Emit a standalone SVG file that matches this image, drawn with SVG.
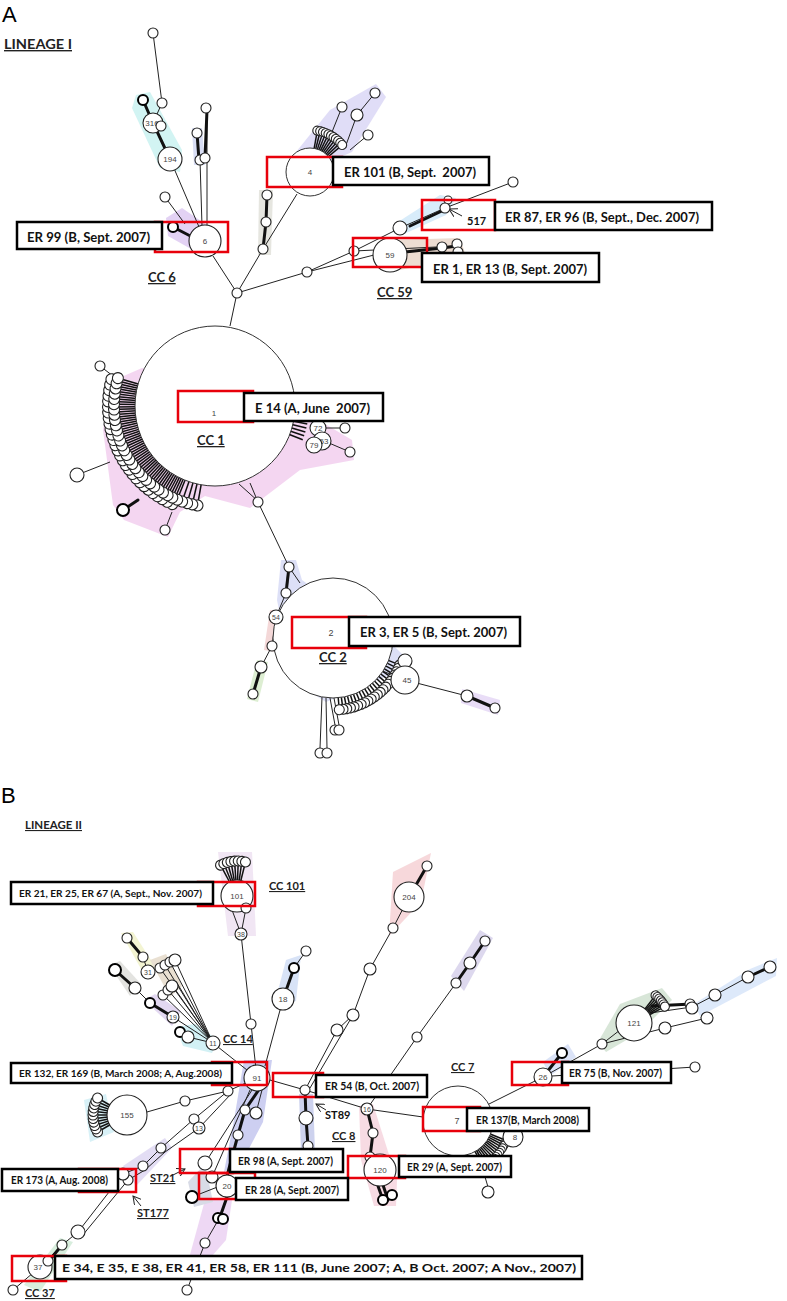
<svg xmlns="http://www.w3.org/2000/svg" width="787" height="1301" viewBox="0 0 787 1301">
<style>
.e{stroke:#222;stroke-width:1;fill:none}
.t{stroke:#111;stroke-width:3;fill:none;stroke-linecap:round}
.n{fill:#fff;stroke:#222;stroke-width:1.1}
.nd{fill:#fff;stroke:#000;stroke-width:2}
.big{fill:#fff;stroke:#333;stroke-width:1}
.sp{stroke:#111;stroke-width:1.5}
.lab{font-family:Arial,'Liberation Sans',sans-serif;font-size:8px;fill:#444;text-anchor:middle}
.rb{fill:none;stroke:#e8000b;stroke-width:2.5}
.bb{fill:#fff;stroke:#000;stroke-width:2.5}
.bt{font-family:Lato,'Open Sans',sans-serif;font-weight:bold;font-size:14px;fill:#111;white-space:pre}
.bs{font-family:Lato,'Open Sans',sans-serif;font-weight:bold;font-size:12px;fill:#111;white-space:pre}
.cc{font-family:Lato,'Open Sans',sans-serif;font-weight:bold;fill:#222;text-decoration:underline}
.c13{font-size:13px}
.c11{font-size:11px}
.ttl{font-family:'Liberation Sans',Arial,sans-serif;font-size:22px;fill:#000}
</style>
<defs>
<marker id="ar" markerWidth="9" markerHeight="9" refX="8" refY="4.5" orient="auto" markerUnits="userSpaceOnUse"><path d="M0,0 L8,4.5 L0,9" fill="none" stroke="#222" stroke-width="1"/></marker>
<g id="f1"><line class="sp" x1="79" y1="0" x2="96" y2="0"/><circle class="n" cx="101" cy="0" r="5.5"/></g>
<g id="f1b"><line class="sp" x1="79" y1="0" x2="102" y2="0"/><circle class="n" cx="107" cy="0" r="5.5"/></g>
<g id="f1r"><line class="sp" x1="79" y1="0" x2="94" y2="0"/></g>
<g id="f2"><line class="sp" x1="59" y1="0" x2="67" y2="0"/><circle class="n" cx="72" cy="0" r="5"/></g>
<g id="f4"><line class="sp" x1="23" y1="0" x2="38" y2="0"/><circle class="n" cx="42" cy="0" r="4.5"/></g>
<g id="f7"><line class="sp" x1="34" y1="0" x2="48" y2="0"/><circle class="n" cx="52" cy="0" r="4"/></g>
<g id="f101"><line class="sp" x1="15" y1="0" x2="31" y2="0"/><circle class="n" cx="35" cy="0" r="5"/></g>
<g id="f121"><line class="sp" x1="17" y1="0" x2="31" y2="0"/><circle class="n" cx="35" cy="0" r="4.5"/></g>
<g id="f155"><line class="sp" x1="19" y1="0" x2="30" y2="0"/><circle class="n" cx="34" cy="0" r="5"/></g>
</defs>
<rect width="787" height="1301" fill="#fff"/>

<g id="shading" opacity="0.7">
<polygon fill="#bff0ee" points="136,95 150,92 182,150 180,172 160,168 132,108"/>
<polygon fill="#c8d0f0" points="192,128 202,128 205,165 194,165"/>
<polygon fill="#d8c0f0" points="166,218 182,208 217,232 207,258 168,236"/>
<polygon fill="#dcdcd4" points="259,190 273,190 271,255 258,255"/>
<polygon fill="#d4d0f4" points="296,152 330,110 376,84 386,97 352,152 320,166"/>
<polygon fill="#c8e4f8" points="398,222 440,195 456,198 446,215 404,234"/>
<polygon fill="#e6d0c0" points="395,240 460,238 466,256 400,270"/>
<polygon fill="#f0c6ec" points="142,368 110,382 103,430 113,505 124,520 168,537 180,512 205,496 250,508 300,470 354,460 352,440 305,412"/>
<polygon fill="#d0d4f4" points="281,560 296,560 302,580 396,648 410,662 397,672 326,702 310,692 285,640 277,600"/>
<polygon fill="#f0c8c8" points="270,610 283,610 276,652 264,650"/>
<polygon fill="#cfe8c0" points="257,660 268,662 258,702 247,699"/>
<polygon fill="#e0d0f4" points="462,689 500,700 498,715 461,703"/>
<polygon fill="#ecdcf0" points="218,852 252,852 256,936 228,936"/>
<polygon fill="#eef0c0" points="121,933 133,932 156,968 145,976"/>
<polygon fill="#d8d8d4" points="109,965 120,961 141,984 130,996"/>
<polygon fill="#e0d4c0" points="150,960 166,954 182,986 170,997"/>
<polygon fill="#d8c8ec" points="144,1000 155,994 181,1011 172,1026"/>
<polygon fill="#c0ecf2" points="176,1027 195,1024 218,1040 212,1053 183,1046"/>
<polygon fill="#c8d8f4" points="286,960 301,955 296,1001 274,1006"/>
<polygon fill="#f4c8cc" points="393,872 431,853 421,902 389,936"/>
<polygon fill="#cfc8e8" points="451,976 480,930 493,938 464,991"/>
<polygon fill="#c8dcc8" points="598,1042 620,1004 662,988 672,1000 640,1032 606,1052"/>
<polygon fill="#d0e0f8" points="694,1004 750,969 777,958 776,976 700,1016"/>
<polygon fill="#ccd8f4" points="543,1062 568,1044 576,1057 550,1076"/>
<polygon fill="#c8ecf4" points="84,1100 106,1094 114,1132 90,1142"/>
<polygon fill="#b8bcec" points="244,1060 272,1060 263,1122 243,1160 224,1172 234,1120"/>
<polygon fill="#b8c0e8" points="299,1094 313,1094 315,1152 301,1152"/>
<polygon fill="#f4ccd8" points="359,1106 373,1104 397,1180 396,1206 374,1206 361,1160"/>
<polygon fill="#d8d0f0" points="123,1166 165,1138 172,1148 136,1186"/>
<polygon fill="#c8e8d0" points="24,1285 60,1238 73,1242 40,1292"/>
<polygon fill="#e8c8f0" points="205,1200 232,1200 226,1240 198,1272 188,1262"/>
<polygon fill="#c8ccdc" points="188,1182 205,1164 213,1202 194,1207"/>
</g>

<g id="connectors">
<path class="e" d="M153,33 L162,103 L153,123"/>
<path class="t" d="M143,100 L153,123 L170,159"/>
<path class="e" d="M170,159 L205,241"/>
<path class="t" d="M197,133 L199,160"/>
<path class="e" d="M202,226 L200,160 M207,226 L207,108"/>
<path class="t" d="M205,158 L207,110"/>
<path class="e" d="M165,197 L185,224"/>
<path class="t" d="M173,227 L198,240"/>
<path class="e" d="M213,256 L237,293 L230,326"/>
<path class="e" d="M237,293 L263,249 L297,194"/>
<path class="t" d="M263,249 L266,222 L267,195"/>
<path class="e" d="M237,293 L307,272 L354,251 L400,228 L445,208 L513,182 M307,272 L374,255 M354,251 L457,246"/>
<path class="t" d="M405,252 L442,248 L457,246"/>
<path class="t" d="M410,226 L444,210"/>
<path class="e" d="M330,137 L342,107 M346,145 L357,115 L375,93 M350,150 L368,135"/>
<path class="e" d="M100,366 L113,376 M77,475 L110,462 M165,530 L172,512"/>
<path class="t" d="M123,510 L138,500"/>
<path class="e" d="M318,428 L345,428 M322,440 L350,452"/>
<path class="e" d="M250,483 L258,502 L289,567 L300,583"/>
<path class="t" d="M289,567 L286,593"/>
<path class="e" d="M286,593 L276,617 L272,646 L261,667"/>
<path class="t" d="M261,667 L253,694"/>
<path class="e" d="M380,670 L405,680 L467,696"/>
<path class="t" d="M467,696 L495,708"/>
<path class="e" d="M322,697 L320,748 M326,698 L327,748 M330,698 L335,725 M334,698 L339,725"/>

<path class="e" d="M232,910 L241,934 M246,908 L241,934 L257,1078"/>
<path class="e" d="M265,1066 L283,999"/>
<path class="t" d="M283,999 L294,968"/>
<path class="e" d="M294,968 L306,951"/>
<path class="e" d="M257,1078 L213,1043 M213,1043 L160,968 M213,1043 L165,965 M213,1043 L170,962 M213,1043 L175,960 M213,1043 L163,995 M213,1043 L168,990 M213,1043 L172,986 M213,1043 L177,983"/>
<path class="e" d="M213,1043 L173,1017 M150,1003 L135,988 M143,957 L148,972 M188,1037 L213,1043"/>
<path class="t" d="M173,1017 L150,1003 M135,988 L115,970 M127,938 L143,957 M180,1032 L192,1037"/>
<path class="e" d="M257,1078 L228,1091 L185,1101 L147,1112"/>
<path class="e" d="M228,1091 L194,1119 L161,1148 L143,1166 L123,1174 M231,1094 L199,1128 L165,1152 L145,1170 L128,1180"/>
<path class="e" d="M123,1174 L78,1232 M128,1180 L82,1236 M78,1232 L62,1245 L40,1267 L13,1290"/>
<path class="t" d="M62,1245 L48,1262"/>
<path class="e" d="M252,1090 L205,1163 M250,1090 L212,1177 M262,1090 L256,1113"/>
<path class="t" d="M258,1091 L245,1110 L238,1135 L227,1176 M227,1197 L220,1217"/>
<path class="e" d="M220,1217 L205,1243 L187,1290 M220,1186 L192,1197"/>
<path class="e" d="M270,1080 L305,1090 L367,1109 L423,1117"/>
<path class="t" d="M305,1090 L306,1118 L308,1146"/>
<path class="e" d="M305,1090 L337,1030 L353,1015 L370,969 L393,928 L409,897 M310,1088 L353,1015"/>
<path class="t" d="M409,897 L427,866"/>
<path class="e" d="M367,1109 L417,1037 L456,983"/>
<path class="t" d="M456,983 L470,963 L485,941"/>
<path class="t" d="M367,1109 L373,1133 L370,1157 M383,1185 L388,1200 M378,1186 L383,1200"/>
<path class="e" d="M487,1105 L543,1077 L602,1044 L620,1030"/>
<path class="t" d="M543,1077 L562,1053"/>
<path class="e" d="M552,1076 L695,1067"/>
<path class="e" d="M602,1044 L665,1028 L707,1018 M650,1013 L692,1007 L715,995 L748,977"/>
<path class="t" d="M652,1006 L692,1004 M748,977 L770,967"/>
<path class="e" d="M477,1150 L488,1187"/>
<path class="e" d="M462,216 L449,209" marker-end="url(#ar)"/>
<path class="e" d="M326,1110 L316,1104" marker-end="url(#ar)"/>
<path class="e" d="M173,1175 L185,1169" marker-end="url(#ar)"/>
<path class="e" d="M141,1206 L133,1196" marker-end="url(#ar)"/>
</g>

<g id="cc1">
<g transform="translate(215 406)">
<use href="#f1b" transform="rotate(113.5)"/><use href="#f1b" transform="rotate(116.5)"/><use href="#f1b" transform="rotate(119.5)"/><use href="#f1b" transform="rotate(122.5)"/><use href="#f1b" transform="rotate(125.5)"/><use href="#f1b" transform="rotate(128.5)"/><use href="#f1b" transform="rotate(131.5)"/><use href="#f1b" transform="rotate(134.5)"/><use href="#f1b" transform="rotate(137.5)"/><use href="#f1b" transform="rotate(140.5)"/><use href="#f1b" transform="rotate(143.5)"/><use href="#f1b" transform="rotate(146.5)"/><use href="#f1b" transform="rotate(149.5)"/><use href="#f1b" transform="rotate(152.5)"/><use href="#f1b" transform="rotate(155.5)"/><use href="#f1b" transform="rotate(158.5)"/><use href="#f1b" transform="rotate(161.5)"/><use href="#f1b" transform="rotate(164.5)"/><use href="#f1b" transform="rotate(167.5)"/><use href="#f1b" transform="rotate(170.5)"/><use href="#f1b" transform="rotate(173.5)"/><use href="#f1b" transform="rotate(176.5)"/><use href="#f1b" transform="rotate(179.5)"/><use href="#f1b" transform="rotate(182.5)"/><use href="#f1b" transform="rotate(185.5)"/><use href="#f1b" transform="rotate(188.5)"/><use href="#f1b" transform="rotate(191.5)"/><use href="#f1b" transform="rotate(194.5)"/>
<use href="#f1" transform="rotate(100)"/><use href="#f1" transform="rotate(103)"/><use href="#f1" transform="rotate(106)"/><use href="#f1" transform="rotate(109)"/><use href="#f1" transform="rotate(112)"/><use href="#f1" transform="rotate(115)"/><use href="#f1" transform="rotate(118)"/><use href="#f1" transform="rotate(121)"/><use href="#f1" transform="rotate(124)"/><use href="#f1" transform="rotate(127)"/><use href="#f1" transform="rotate(130)"/><use href="#f1" transform="rotate(133)"/><use href="#f1" transform="rotate(136)"/><use href="#f1" transform="rotate(139)"/><use href="#f1" transform="rotate(142)"/><use href="#f1" transform="rotate(145)"/><use href="#f1" transform="rotate(148)"/><use href="#f1" transform="rotate(151)"/><use href="#f1" transform="rotate(154)"/><use href="#f1" transform="rotate(157)"/><use href="#f1" transform="rotate(160)"/><use href="#f1" transform="rotate(163)"/><use href="#f1" transform="rotate(166)"/><use href="#f1" transform="rotate(169)"/><use href="#f1" transform="rotate(172)"/><use href="#f1" transform="rotate(175)"/><use href="#f1" transform="rotate(178)"/><use href="#f1" transform="rotate(181)"/><use href="#f1" transform="rotate(184)"/><use href="#f1" transform="rotate(187)"/><use href="#f1" transform="rotate(190)"/><use href="#f1" transform="rotate(193)"/><use href="#f1" transform="rotate(196)"/>
<use href="#f1r" transform="rotate(6)"/><use href="#f1r" transform="rotate(8.5)"/><use href="#f1r" transform="rotate(11)"/><use href="#f1r" transform="rotate(13.5)"/><use href="#f1r" transform="rotate(16)"/><use href="#f1r" transform="rotate(18.5)"/><use href="#f1r" transform="rotate(21)"/>
<line class="e" x1="24" y1="78" x2="44" y2="96"/>
</g>
<circle class="big" cx="215" cy="406" r="80"/>
<text class="lab" x="214" y="416">1</text>
</g>

<g id="cc2">
<g transform="translate(333 638)">
<use href="#f2" transform="rotate(22)"/><use href="#f2" transform="rotate(25)"/><use href="#f2" transform="rotate(28)"/><use href="#f2" transform="rotate(31)"/><use href="#f2" transform="rotate(34)"/><use href="#f2" transform="rotate(37)"/><use href="#f2" transform="rotate(40)"/><use href="#f2" transform="rotate(43)"/><use href="#f2" transform="rotate(46)"/><use href="#f2" transform="rotate(49)"/><use href="#f2" transform="rotate(52)"/><use href="#f2" transform="rotate(55)"/><use href="#f2" transform="rotate(58)"/><use href="#f2" transform="rotate(61)"/><use href="#f2" transform="rotate(64)"/><use href="#f2" transform="rotate(67)"/><use href="#f2" transform="rotate(70)"/><use href="#f2" transform="rotate(73)"/><use href="#f2" transform="rotate(76)"/><use href="#f2" transform="rotate(79)"/><use href="#f2" transform="rotate(82)"/><use href="#f2" transform="rotate(85)"/>
</g>
<circle class="big" cx="333" cy="638" r="60"/>
<text class="lab" x="331" y="636" style="font-size:9px">2</text>
</g>

<g id="node4">
<g transform="translate(310 172)">
<use href="#f4" transform="rotate(-80)"/><use href="#f4" transform="rotate(-76)"/><use href="#f4" transform="rotate(-72)"/><use href="#f4" transform="rotate(-68)"/><use href="#f4" transform="rotate(-64)"/><use href="#f4" transform="rotate(-60)"/><use href="#f4" transform="rotate(-56)"/><use href="#f4" transform="rotate(-52)"/><use href="#f4" transform="rotate(-48)"/><use href="#f4" transform="rotate(-44)"/><use href="#f4" transform="rotate(-40)"/>
</g>
<circle class="big" cx="310" cy="172" r="24"/>
<text class="lab" x="310" y="175">4</text>
</g>

<g id="node7">
<g transform="translate(458 1121)">
<use href="#f7" transform="rotate(22)"/><use href="#f7" transform="rotate(25)"/><use href="#f7" transform="rotate(28)"/><use href="#f7" transform="rotate(31)"/><use href="#f7" transform="rotate(34)"/><use href="#f7" transform="rotate(37)"/><use href="#f7" transform="rotate(40)"/><use href="#f7" transform="rotate(43)"/><use href="#f7" transform="rotate(46)"/><use href="#f7" transform="rotate(49)"/><use href="#f7" transform="rotate(52)"/><use href="#f7" transform="rotate(55)"/><use href="#f7" transform="rotate(58)"/><use href="#f7" transform="rotate(61)"/>
</g>
<circle class="big" cx="458" cy="1121" r="35"/>
<text class="lab" x="457" y="1124" style="font-size:9px">7</text>
<circle class="n" cx="513" cy="1137" r="10"/><text class="lab" x="515" y="1140">8</text>
</g>

<g id="node101">
<g transform="translate(237 896)">
<use href="#f101" transform="rotate(-118)"/><use href="#f101" transform="rotate(-112)"/><use href="#f101" transform="rotate(-106)"/><use href="#f101" transform="rotate(-100)"/><use href="#f101" transform="rotate(-94)"/><use href="#f101" transform="rotate(-88)"/><use href="#f101" transform="rotate(-82)"/><use href="#f101" transform="rotate(-76)"/>
</g>
<circle class="n" cx="237" cy="896" r="16"/><text class="lab" x="237" y="899">101</text>
</g>

<g id="node121">
<g transform="translate(634 1023)">
<use href="#f121" transform="rotate(-52)"/><use href="#f121" transform="rotate(-48)"/><use href="#f121" transform="rotate(-44)"/><use href="#f121" transform="rotate(-40)"/><use href="#f121" transform="rotate(-36)"/><use href="#f121" transform="rotate(-32)"/><use href="#f121" transform="rotate(-28)"/>
</g>
<circle class="n" cx="634" cy="1023" r="18"/><text class="lab" x="634" y="1026">121</text>
</g>

<g id="node155">
<g transform="translate(127 1115)">
<use href="#f155" transform="rotate(150)"/><use href="#f155" transform="rotate(156)"/><use href="#f155" transform="rotate(162)"/><use href="#f155" transform="rotate(168)"/><use href="#f155" transform="rotate(174)"/><use href="#f155" transform="rotate(180)"/><use href="#f155" transform="rotate(186)"/><use href="#f155" transform="rotate(192)"/><use href="#f155" transform="rotate(198)"/><use href="#f155" transform="rotate(204)"/><use href="#f155" transform="rotate(210)"/>
</g>
<circle class="n" cx="127" cy="1115" r="20"/><text class="lab" x="127" y="1118">155</text>
</g>

<g id="nodesA">
<circle class="n" cx="153" cy="33" r="5"/>
<circle class="n" cx="162" cy="103" r="5"/>
<circle class="nd" cx="143" cy="100" r="5"/>
<circle class="n" cx="153" cy="123" r="10"/><text class="lab" x="152" y="126">316</text>
<circle class="n" cx="161" cy="126" r="5"/>
<circle class="n" cx="170" cy="159" r="12"/><text class="lab" x="170" y="162">194</text>
<circle class="n" cx="197" cy="133" r="5"/>
<circle class="n" cx="200" cy="160" r="5"/>
<circle class="n" cx="206" cy="108" r="5"/>
<circle class="n" cx="205" cy="158" r="5"/>
<circle class="n" cx="165" cy="197" r="5"/>
<circle class="nd" cx="173" cy="227" r="5"/>
<circle class="n" cx="205" cy="241" r="16"/><text class="lab" x="205" y="244">6</text>
<circle class="n" cx="237" cy="293" r="5"/>
<circle class="n" cx="263" cy="249" r="5"/>
<circle class="n" cx="266" cy="222" r="5"/>
<circle class="n" cx="267" cy="195" r="5"/>
<circle class="n" cx="342" cy="107" r="5"/>
<circle class="n" cx="357" cy="115" r="6"/>
<circle class="n" cx="375" cy="93" r="5"/>
<circle class="n" cx="368" cy="135" r="5"/>
<circle class="n" cx="307" cy="272" r="5"/>
<circle class="n" cx="354" cy="251" r="5"/>
<circle class="n" cx="400" cy="228" r="7"/>
<circle class="n" cx="448" cy="200" r="4"/>
<circle class="n" cx="445" cy="208" r="5"/>
<circle class="n" cx="513" cy="182" r="5"/>
<circle class="n" cx="442" cy="247" r="5"/>
<circle class="n" cx="457" cy="244" r="5"/>
<circle class="n" cx="458" cy="252" r="5"/>
<circle class="n" cx="390" cy="255" r="17"/><text class="lab" x="390" y="258">59</text>
<circle class="n" cx="100" cy="366" r="5"/>
<circle class="n" cx="77" cy="475" r="7"/>
<circle class="nd" cx="123" cy="510" r="6"/>
<circle class="n" cx="165" cy="530" r="5"/>
<circle class="n" cx="318" cy="428" r="8"/><text class="lab" x="318" y="431">72</text>
<circle class="n" cx="322" cy="441" r="9"/><text class="lab" x="324" y="444">53</text>
<circle class="n" cx="314" cy="445" r="8"/><text class="lab" x="314" y="448">79</text>
<circle class="n" cx="345" cy="428" r="5"/>
<circle class="n" cx="350" cy="452" r="5"/>
<circle class="n" cx="258" cy="502" r="5"/>
<circle class="n" cx="289" cy="567" r="5"/>
<circle class="n" cx="286" cy="593" r="5"/>
<circle class="n" cx="276" cy="617" r="7"/><text class="lab" x="276" y="620" style="font-size:7px">54</text>
<circle class="n" cx="272" cy="646" r="5"/>
<circle class="n" cx="261" cy="667" r="6"/>
<circle class="n" cx="253" cy="694" r="5"/>
<circle class="n" cx="405" cy="661" r="7"/>
<circle class="n" cx="405" cy="680" r="14"/><text class="lab" x="407" y="683">45</text>
<circle class="n" cx="467" cy="696" r="6"/>
<circle class="n" cx="495" cy="708" r="5"/>
<circle class="n" cx="335" cy="730" r="5"/>
<circle class="n" cx="339" cy="730" r="5"/>
<circle class="n" cx="320" cy="753" r="5"/>
<circle class="n" cx="327" cy="753" r="5"/>
</g>

<g id="nodesB">
<circle class="n" cx="246" cy="908" r="5"/>
<circle class="n" cx="241" cy="934" r="6"/><text class="lab" x="241" y="937" style="font-size:7px">38</text>
<circle class="n" cx="251" cy="1024" r="5"/>
<circle class="n" cx="257" cy="1078" r="13"/><text class="lab" x="257" y="1081">91</text>
<circle class="n" cx="283" cy="999" r="11"/><text class="lab" x="283" y="1002">18</text>
<circle class="nd" cx="294" cy="968" r="5"/>
<circle class="n" cx="306" cy="951" r="5"/>
<circle class="n" cx="160" cy="968" r="5"/><circle class="n" cx="165" cy="965" r="5"/><circle class="n" cx="170" cy="962" r="5"/><circle class="n" cx="175" cy="960" r="6"/>
<circle class="n" cx="163" cy="995" r="5"/><circle class="n" cx="168" cy="990" r="5"/><circle class="n" cx="172" cy="986" r="6"/>
<circle class="n" cx="127" cy="938" r="5"/>
<circle class="n" cx="143" cy="957" r="5"/>
<circle class="n" cx="148" cy="972" r="7"/><text class="lab" x="148" y="975" style="font-size:7px">31</text>
<circle class="nd" cx="115" cy="970" r="6"/>
<circle class="n" cx="135" cy="988" r="6"/>
<circle class="nd" cx="150" cy="1003" r="5"/>
<circle class="n" cx="173" cy="1017" r="6"/><text class="lab" x="173" y="1020" style="font-size:7px">19</text>
<circle class="nd" cx="180" cy="1032" r="5"/>
<circle class="n" cx="188" cy="1037" r="6"/>
<circle class="n" cx="213" cy="1043" r="7"/><text class="lab" x="213" y="1046" style="font-size:7px">11</text>
<circle class="n" cx="185" cy="1101" r="5"/>
<circle class="n" cx="228" cy="1091" r="5"/>
<circle class="n" cx="194" cy="1119" r="5"/>
<circle class="n" cx="199" cy="1128" r="6"/><text class="lab" x="199" y="1131" style="font-size:7px">13</text>
<circle class="n" cx="161" cy="1148" r="5"/>
<circle class="n" cx="143" cy="1166" r="5"/>
<circle class="n" cx="128" cy="1180" r="5"/>
<circle class="n" cx="123" cy="1174" r="6"/>
<circle class="n" cx="78" cy="1232" r="7"/>
<circle class="n" cx="62" cy="1245" r="5"/>
<circle class="n" cx="40" cy="1267" r="12"/><text class="lab" x="38" y="1270">37</text>
<circle class="n" cx="48" cy="1261" r="5"/>
<circle class="n" cx="13" cy="1290" r="5"/>
<circle class="n" cx="245" cy="1110" r="5"/>
<circle class="n" cx="256" cy="1113" r="6"/>
<circle class="n" cx="238" cy="1135" r="5"/>
<circle class="n" cx="205" cy="1163" r="7"/>
<circle class="n" cx="212" cy="1177" r="6"/>
<circle class="nd" cx="192" cy="1197" r="6"/>
<circle class="n" cx="227" cy="1186" r="11"/><text class="lab" x="227" y="1189">20</text>
<circle class="nd" cx="218" cy="1218" r="5"/><circle class="nd" cx="223" cy="1219" r="5"/>
<circle class="n" cx="205" cy="1243" r="5"/>
<circle class="n" cx="187" cy="1290" r="5"/>
<circle class="n" cx="305" cy="1090" r="5"/>
<circle class="n" cx="306" cy="1118" r="7"/>
<circle class="n" cx="308" cy="1146" r="5"/>
<circle class="n" cx="367" cy="1109" r="6"/><text class="lab" x="367" y="1112" style="font-size:7px">16</text>
<circle class="n" cx="373" cy="1133" r="5"/>
<circle class="n" cx="370" cy="1157" r="5"/>
<circle class="n" cx="380" cy="1170" r="16"/><text class="lab" x="380" y="1173">120</text>
<circle class="nd" cx="383" cy="1200" r="5"/><circle class="nd" cx="392" cy="1195" r="5"/>
<circle class="n" cx="488" cy="1192" r="6"/>
<circle class="nd" cx="562" cy="1053" r="5"/>
<circle class="n" cx="543" cy="1077" r="9"/><text class="lab" x="543" y="1080">26</text>
<circle class="n" cx="695" cy="1067" r="5"/>
<circle class="n" cx="602" cy="1044" r="5"/>
<circle class="n" cx="665" cy="1028" r="6"/>
<circle class="n" cx="707" cy="1018" r="6"/>
<circle class="n" cx="690" cy="1004" r="5"/>
<circle class="n" cx="692" cy="1008" r="6"/>
<circle class="n" cx="715" cy="995" r="6"/>
<circle class="n" cx="748" cy="977" r="6"/>
<circle class="n" cx="770" cy="967" r="6"/>
<circle class="n" cx="427" cy="866" r="5"/>
<circle class="n" cx="409" cy="897" r="15"/><text class="lab" x="409" y="900">204</text>
<circle class="n" cx="393" cy="928" r="5"/>
<circle class="n" cx="370" cy="969" r="6"/>
<circle class="n" cx="353" cy="1015" r="6"/>
<circle class="n" cx="337" cy="1030" r="6"/>
<circle class="n" cx="485" cy="941" r="5"/>
<circle class="n" cx="470" cy="963" r="6"/>
<circle class="n" cx="456" cy="983" r="5"/>
<circle class="n" cx="417" cy="1037" r="5"/>
</g>

<g id="redboxes">
<rect class="rb" x="155" y="222" width="73" height="30"/>
<rect class="rb" x="267" y="157" width="75" height="30"/>
<rect class="rb" x="422" y="200" width="73" height="30"/>
<rect class="rb" x="353" y="238" width="74" height="29"/>
<rect class="rb" x="178" y="391" width="75" height="31"/>
<rect class="rb" x="292" y="617" width="74" height="31"/>
<rect class="rb" x="198" y="882" width="57" height="24"/>
<rect class="rb" x="212" y="1062" width="55" height="23"/>
<rect class="rb" x="273" y="1073" width="50" height="24"/>
<rect class="rb" x="180" y="1149" width="53" height="24"/>
<rect class="rb" x="199" y="1173" width="56" height="26"/>
<rect class="rb" x="79" y="1169" width="57" height="23"/>
<rect class="rb" x="512" y="1062" width="56" height="23"/>
<rect class="rb" x="423" y="1107" width="57" height="24"/>
<rect class="rb" x="348" y="1156" width="57" height="22"/>
<rect class="rb" x="12" y="1256" width="54" height="25"/>
</g>

<g id="labels">
<rect class="bb" x="17" y="222" width="145" height="27"/>
<text class="bt" x="27" y="242" textLength="123" lengthAdjust="spacingAndGlyphs">ER 99 (B, Sept. 2007)</text>
<rect class="bb" x="333" y="157" width="156" height="28"/>
<text class="bt" x="344" y="177" textLength="132" lengthAdjust="spacingAndGlyphs">ER 101 (B, Sept.  2007)</text>
<rect class="bb" x="495" y="202" width="217" height="28"/>
<text class="bt" x="505" y="222" textLength="194" lengthAdjust="spacingAndGlyphs">ER 87, ER 96 (B, Sept., Dec. 2007)</text>
<rect class="bb" x="422" y="253" width="177" height="29"/>
<text class="bt" x="433" y="274" textLength="154" lengthAdjust="spacingAndGlyphs">ER 1, ER 13 (B, Sept. 2007)</text>
<rect class="bb" x="244" y="393" width="139" height="28"/>
<text class="bt" x="255" y="413" textLength="115" lengthAdjust="spacingAndGlyphs">E 14 (A, June  2007)</text>
<rect class="bb" x="349" y="617" width="171" height="29"/>
<text class="bt" x="360" y="637" textLength="147" lengthAdjust="spacingAndGlyphs">ER 3, ER 5 (B, Sept. 2007)</text>

<rect class="bb" x="11" y="882" width="202" height="22"/>
<text class="bs" x="19" y="897" style="font-size:9.5px" textLength="183" lengthAdjust="spacingAndGlyphs">ER 21, ER 25, ER 67 (A, Sept., Nov. 2007)</text>
<rect class="bb" x="11" y="1063" width="221" height="20"/>
<text class="bs" x="19" y="1077" style="font-size:9.5px" textLength="203" lengthAdjust="spacingAndGlyphs">ER 132, ER 169 (B, March 2008; A, Aug.2008)</text>
<rect class="bb" x="316" y="1075" width="111" height="22"/>
<text class="bs" x="325" y="1090" textLength="94" lengthAdjust="spacingAndGlyphs">ER 54 (B, Oct. 2007)</text>
<rect class="bb" x="230" y="1149" width="113" height="23"/>
<text class="bs" x="238" y="1165" textLength="95" lengthAdjust="spacingAndGlyphs">ER 98 (A, Sept. 2007)</text>
<rect class="bb" x="236" y="1178" width="112" height="22"/>
<text class="bs" x="245" y="1194" textLength="94" lengthAdjust="spacingAndGlyphs">ER 28 (A, Sept. 2007)</text>
<rect class="bb" x="2" y="1169" width="116" height="22"/>
<text class="bs" x="11" y="1184" textLength="97" lengthAdjust="spacingAndGlyphs">ER 173 (A, Aug. 2008)</text>
<rect class="bb" x="562" y="1062" width="109" height="21"/>
<text class="bs" x="569" y="1077" textLength="93" lengthAdjust="spacingAndGlyphs">ER 75 (B, Nov. 2007)</text>
<rect class="bb" x="467" y="1108" width="122" height="23"/>
<text class="bs" x="476" y="1124" textLength="103" lengthAdjust="spacingAndGlyphs">ER 137(B, March 2008)</text>
<rect class="bb" x="399" y="1156" width="112" height="21"/>
<text class="bs" x="407" y="1171" textLength="95" lengthAdjust="spacingAndGlyphs">ER 29 (A, Sept. 2007)</text>
<rect class="bb" x="55" y="1256" width="527" height="23"/>
<text class="bs" x="62" y="1272" textLength="514" lengthAdjust="spacingAndGlyphs">E 34, E 35, E 38, ER 41, ER 58, ER 111 (B, June 2007; A, B Oct. 2007; A Nov., 2007)</text>
</g>

<g id="titles">
<text class="ttl" x="2" y="22">A</text>
<text class="ttl" x="1" y="803">B</text>
<text class="cc" x="4" y="49" style="font-size:14px" textLength="68" lengthAdjust="spacingAndGlyphs">LINEAGE I</text>
<text class="cc c11" x="25" y="829" textLength="57" lengthAdjust="spacingAndGlyphs">LINEAGE II</text>
<text class="cc c13" x="148" y="282">CC 6</text>
<text class="cc c13" x="377" y="297">CC 59</text>
<text class="cc c13" x="197" y="445">CC 1</text>
<text class="cc c13" x="319" y="662">CC 2</text>
<text class="cc c11" x="269" y="890">CC 101</text>
<text class="cc c11" x="223" y="1043">CC 14</text>
<text class="cc c11" x="451" y="1071">CC 7</text>
<text class="cc c11" x="332" y="1140">CC 8</text>
<text class="bs" x="325" y="1119" style="font-size:11px">ST89</text>
<text class="cc c11" x="150" y="1182">ST21</text>
<text class="cc c11" x="137" y="1217">ST177</text>
<text class="cc c11" x="25" y="1297">CC 37</text>
<text class="bs" x="467" y="225" style="font-size:11px">517</text>
</g>
</svg>
